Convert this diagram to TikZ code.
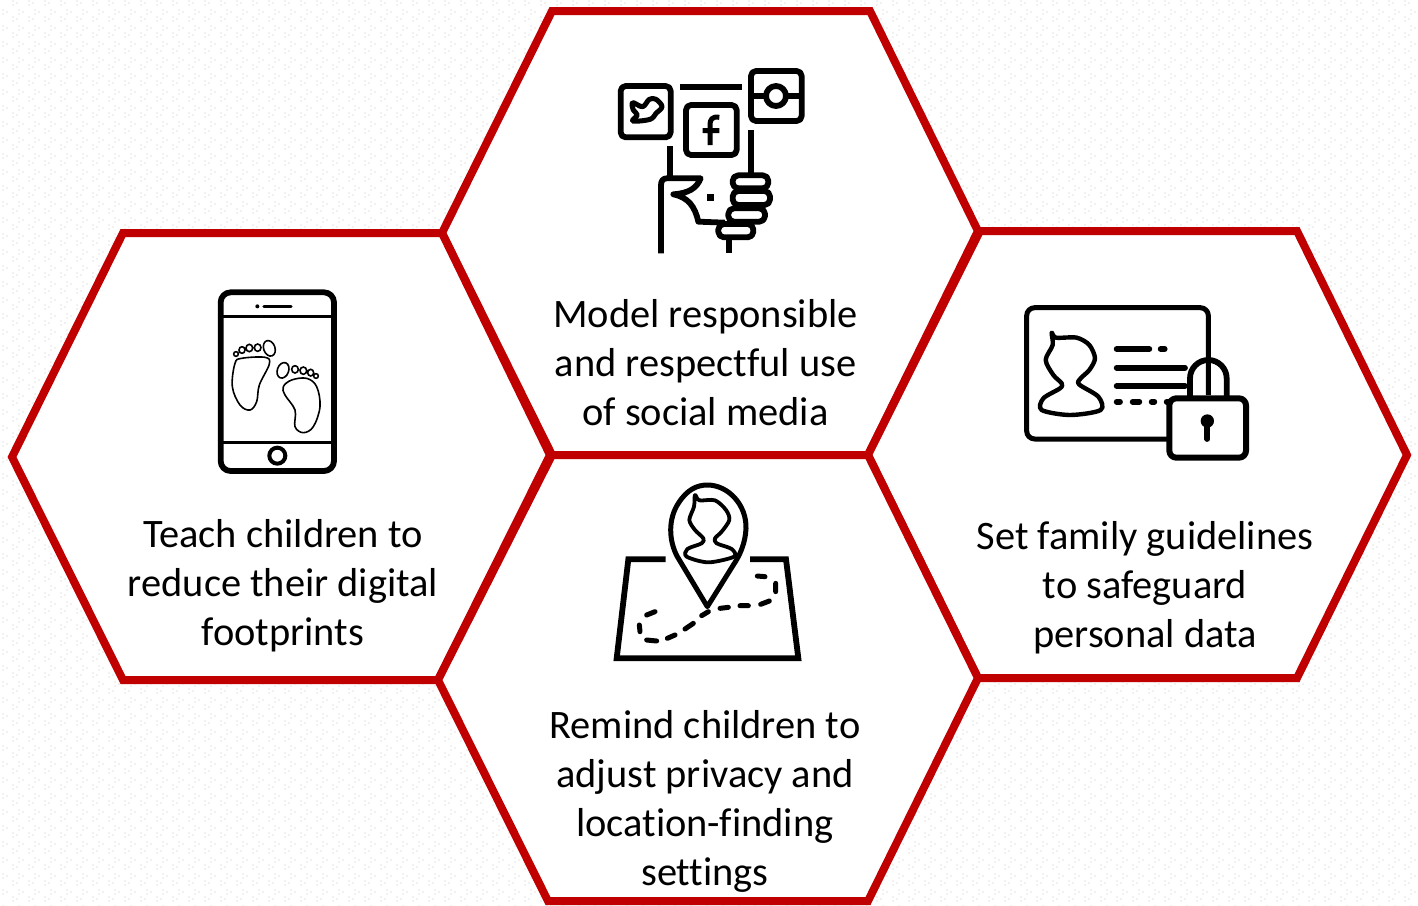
\documentclass[tikz,border=0pt]{standalone}
\usepackage{fontspec}
\setmainfont[Ligatures=NoCommon]{Carlito}
\definecolor{hexred}{HTML}{C00000}
\definecolor{dotgrey}{HTML}{F1F1F1}
\tikzset{
  hex/.style={draw=hexred,fill=white,line width=8pt,miter limit=10,line join=miter},
  label/.style={align=center,font=\fontsize{40.4}{49}\selectfont,text=black,inner sep=0pt},
  ico/.style={draw=black,line width=5.8pt,line join=round,line cap=round},
  icothin/.style={draw=black,line width=1.6pt},
  zoomed/.style={scale=0.33333},
}
\begin{document}
\begin{tikzpicture}[x=1pt,y=-1pt]
\useasboundingbox (0,0) rectangle (1418,905);
\fill[white] (0,0) rectangle (1418,905);
% faint background dots, as rows of dashes
\foreach \j in {0,...,56}{
  \foreach \dx/\dy in {2/10,2/14,6/12,12/1,12/5,16/3}{
    \draw[dotgrey,line width=2pt,dash pattern=on 2pt off 14pt] ({\dx},{16*\j+\dy}) -- ++(1416,0);
  }
}
% hexagons
\draw[hex] (552,11)--(870,11)--(978,231)--(868,455)--(552,455)--(442,233)--cycle;
\draw[hex] (123,233)--(442,233)--(550,455)--(438,680)--(123,680)--(12,457)--cycle;
\draw[hex] (980,231)--(1297,231)--(1407,455)--(1297,678)--(978,678)--(868,455)--cycle;
\draw[hex] (552,455)--(868,455)--(978,678)--(868,901)--(548,901)--(438,680)--cycle;
% labels
\node[label] (top) at (705.5,363) {Model responsible\\and respectful use\\of social media};
\node[label] (left) at (283,586) {Teach children to\\reduce their digital\\footprints};
\node[label] (right) at (1145,588) {Set family guidelines\\to safeguard\\personal data};
\node[label] (bottom) at (705,801) {Remind children to\\adjust privacy and\\location-finding\\settings};
% social icon
\begin{scope}[shift={(600,60)},zoomed]
  \draw[ico,rounded corners=5pt] (62,78) rectangle (212,232);
  \draw[ico,rounded corners=5pt] (258,135) rectangle (410,285);
  \draw[ico,rounded corners=5pt] (453,33) rectangle (605,183);
  \draw[ico,line cap=butt] (240,80)--(425,80);
  \draw[ico,line cap=butt] (453,108)--(497,108) (559,108)--(605,108);
  \draw[ico] (528,108) circle (30);
  \draw[ico,line width=5pt] plot[smooth cycle,tension=.6] coordinates {(98,128)(128,140)(148,118)(168,118)(186,140)(168,160)(150,178)(98,183)(112,165)(100,150)};
  \draw[ico,line width=5pt,line cap=butt] (358,172) .. controls (335,168) and (330,180) .. (330,195) -- (330,255) (308,212)--(358,212);
  \draw[ico,line cap=butt] (210,258)--(210,352) (453,210)--(453,345);
  \draw[ico,line cap=butt,line join=round] (183,580)--(183,375) .. controls (183,362) and (190,355) .. (200,355) -- (302,355) .. controls (290,385) and (265,400) .. (220,403) .. controls (265,412) and (285,440) .. (295,485) -- (375,488);
  \fill (322,402) rectangle (342,422);
  \draw[ico,line cap=butt] (388,535)--(388,580);
  \draw[ico,fill=white,rounded corners=5.5pt] (398,346) rectangle (505,385);
  \draw[ico,fill=white,rounded corners=5.5pt] (398,393) rectangle (510,435);
  \draw[ico,fill=white,rounded corners=5.5pt] (385,445) rectangle (495,485);
  \draw[ico,fill=white,rounded corners=5.5pt] (355,492) rectangle (460,532);
\end{scope}
% phone icon
\begin{scope}[shift={(200,280)},zoomed]
  \draw[ico,rounded corners=10pt] (62,37) rectangle (402,573);
  \draw[ico,line width=3.5pt,line cap=butt] (62,110)--(402,110) (62,487)--(402,487);
  \draw[ico,line width=3.4pt] (192,79)--(273,79);
  \fill (172,79) circle (6);
  \draw[ico,line width=4pt] (232,527) circle (24);
  \draw[icothin] plot[smooth cycle,tension=.6] coordinates {(125,235)(195,232)(208,252)(178,315)(170,365)(150,390)(120,375)(97,320)(105,250)};
  \draw[icothin,rotate around={20:(208,205)}] (208,205) ellipse (17 and 24);
  \draw[icothin] (173,203) ellipse (10 and 11) (148,204) ellipse (10 and 11) (126,210) ellipse (9 and 10) (108,222) circle (7);
  \draw[icothin] plot[smooth cycle,tension=.6] coordinates {(250,320)(275,300)(320,295)(350,320)(360,380)(340,440)(310,458)(285,440)(285,390)(255,345)};
  \draw[icothin,rotate around={-20:(249,271)}] (249,271) ellipse (17 and 24);
  \draw[icothin] (285,268) ellipse (10 and 11) (310,272) ellipse (10 and 11) (332,278) ellipse (9 and 10) (348,288) circle (7);
\end{scope}
% id card icon
\begin{scope}[shift={(1010,295)},zoomed]
  \draw[ico,line width=5pt,rounded corners=8pt,line cap=butt] (475,432)--(50,432)--(50,38)--(595,38)--(595,300);
  \draw[ico,line width=4.4pt] plot[smooth cycle,tension=.5] coordinates {(125,113)(138,128)(200,128)(238,150)(255,190)(238,225)(212,250)(207,268)(265,305)(272,345)(180,360)(95,345)(100,310)(150,280)(155,265)(130,240)(107,195)(128,150)};
  \draw[ico] (320,162)--(418,162) (452,162)--(464,162) (320,218)--(525,218) (320,273)--(525,273);
  \draw[ico] (320,320)--(330,320) (368,320)--(388,320) (425,320)--(433,320) (470,320)--(480,320);
  \draw[ico,line cap=butt] (540,305)--(540,250) arc[start angle=180,end angle=360,radius=55] -- (650,305);
  \draw[ico,line width=6pt,fill=white,rounded corners=7pt] (478,310) rectangle (708,488);
  \fill (592,378) circle (20);
  \draw[ico] (592,378)--(592,432);
\end{scope}
% map icon
\begin{scope}[shift={(600,475)},zoomed]
  \draw[ico,line cap=butt,line join=miter] (197,253)--(85,253)--(50,550)--(595,550)--(558,253)--(450,253);
  \draw[ico,line width=5pt] (322,395) -- (232,245) .. controls (205,195) and (205,130) .. (235,85) .. controls (260,45) and (290,30) .. (322,30) .. controls (385,30) and (440,90) .. (438,160) .. controls (436,205) and (420,240) .. (400,270) -- cycle;
  \draw[ico,line width=3.8pt] plot[smooth cycle,tension=.5] coordinates {(285,60)(298,76)(345,76)(378,105)(388,135)(365,170)(345,190)(350,205)(395,222)(402,245)(325,262)(260,245)(262,222)(305,205)(310,190)(285,165)(268,135)(282,95)};
  \draw[ico,line width=5pt] (140,420)--(165,410) (118,450)--(120,470) (140,495)--(170,498) (202,490)--(225,480) (255,462)--(280,445) (305,422)--(325,410) (360,400)--(385,397) (420,392)--(445,392) (482,388)--(508,378) (527,350)--(527,325) (495,305)--(472,303);
\end{scope}
\end{tikzpicture}
\end{document}
